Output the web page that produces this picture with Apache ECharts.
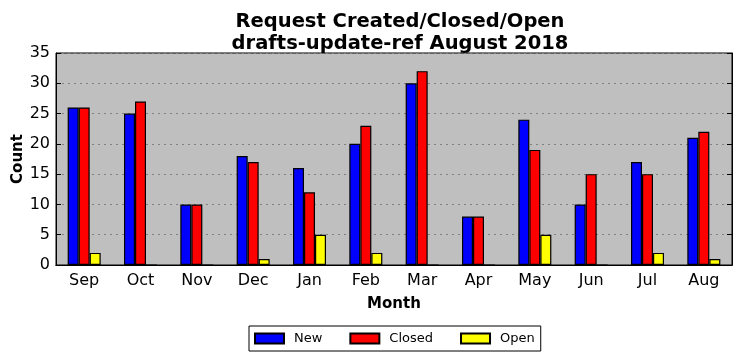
<!DOCTYPE html>
<html><head><meta charset="utf-8">
<script src="https://cdn.jsdelivr.net/npm/echarts@6/dist/echarts.min.js"></script>
<style>html,body{margin:0;padding:0;background:#fff}#c{width:742px;height:361px}</style>
</head><body><div id="c"></div>
<script>
const months = ['Sep','Oct','Nov','Dec','Jan','Feb','Mar','Apr','May','Jun','Jul','Aug'];
const newVals = [26,25,10,18,16,20,30,8,24,10,17,21];
const closedVals = [26,27,10,17,12,23,32,8,19,15,15,22];
const openVals = [2,0,0,1,5,2,0,0,5,0,2,1];
const yTicks = [0,5,10,15,20,25,30,35];

const font = 'DejaVu Sans';
const chart = echarts.init(document.getElementById('c'));
const barStyle = (c) => ({color: c, borderColor: '#000', borderWidth: 1.2, borderRadius: 0});
chart.setOption({
  animation: false,
  title: {
    text: 'Request Created/Closed/Open\ndrafts-update-ref August 2018',
    left: 395, textAlign: 'center', top: 6,
    textStyle: {fontFamily: font, fontWeight: 'bold', fontSize: 19.5, lineHeight: 22, color: '#000'}
  },
  grid: {left: 56, top: 53, width: 676, height: 212, outerBoundsMode: 'none', containLabel: false,
    show: true, backgroundColor: '#bfbfbf', borderColor: '#000', borderWidth: 1},
  legend: {
    left: 249, top: 326, itemWidth: 29, itemHeight: 10, itemGap: 27, icon: 'rect',
    padding: [6, 6, 6, 5], borderColor: '#000', borderWidth: 1, borderRadius: 0,
    textStyle: {fontFamily: font, fontSize: 13, color: '#000', padding: [0, 0, 0, 5]},
    data: ['New', 'Closed', 'Open']
  },
  xAxis: [{
    type: 'category', data: months, position: 'bottom',
    name: 'Month', nameLocation: 'middle', nameGap: 32, nameMoveOverlap: false,
    nameTextStyle: {fontFamily: font, fontWeight: 'bold', fontSize: 15, color: '#000'},
    axisLine: {lineStyle: {color: '#000'}},
    axisTick: {inside: true, alignWithLabel: true, length: 5, lineStyle: {color: '#000'}},
    axisLabel: {fontFamily: font, fontSize: 16, color: '#000', margin: 8},
    splitLine: {show: false}
  }, {
    type: 'category', data: months, position: 'top',
    axisLine: {lineStyle: {color: '#000'}},
    axisTick: {inside: true, alignWithLabel: true, length: 5, lineStyle: {color: '#000'}},
    axisLabel: {show: false}
  }],
  yAxis: [{
    type: 'value', min: 0, max: 35, interval: 5,
    name: 'Count', nameLocation: 'middle', nameGap: 30, nameMoveOverlap: false,
    nameTextStyle: {fontFamily: font, fontWeight: 'bold', fontSize: 15, color: '#000'},
    axisLine: {show: true, lineStyle: {color: '#000'}},
    axisTick: {show: true, inside: true, length: 5, lineStyle: {color: '#000'}},
    axisLabel: {fontFamily: font, fontSize: 16, color: '#000', margin: 6,
      formatter: (v) => yTicks.includes(v) ? String(v) : ''},
    splitLine: {show: true, lineStyle: {color: '#808080', type: [2, 4], width: 1}}
  }, {
    type: 'value', min: 0, max: 35, interval: 5, position: 'right',
    axisLine: {show: true, lineStyle: {color: '#000'}},
    axisTick: {show: true, inside: true, length: 5, lineStyle: {color: '#000'}},
    axisLabel: {show: false}, splitLine: {show: false}
  }],
  series: [
    {name: 'New', type: 'bar', data: newVals, barWidth: 11, barGap: '0%', itemStyle: barStyle('#0000ff')},
    {name: 'Closed', type: 'bar', data: closedVals, barWidth: 11, barGap: '0%', itemStyle: barStyle('#ff0000')},
    {name: 'Open', type: 'bar', data: openVals, barWidth: 11, barGap: '0%', itemStyle: barStyle('#ffff00')}
  ]
});
</script></body></html>
